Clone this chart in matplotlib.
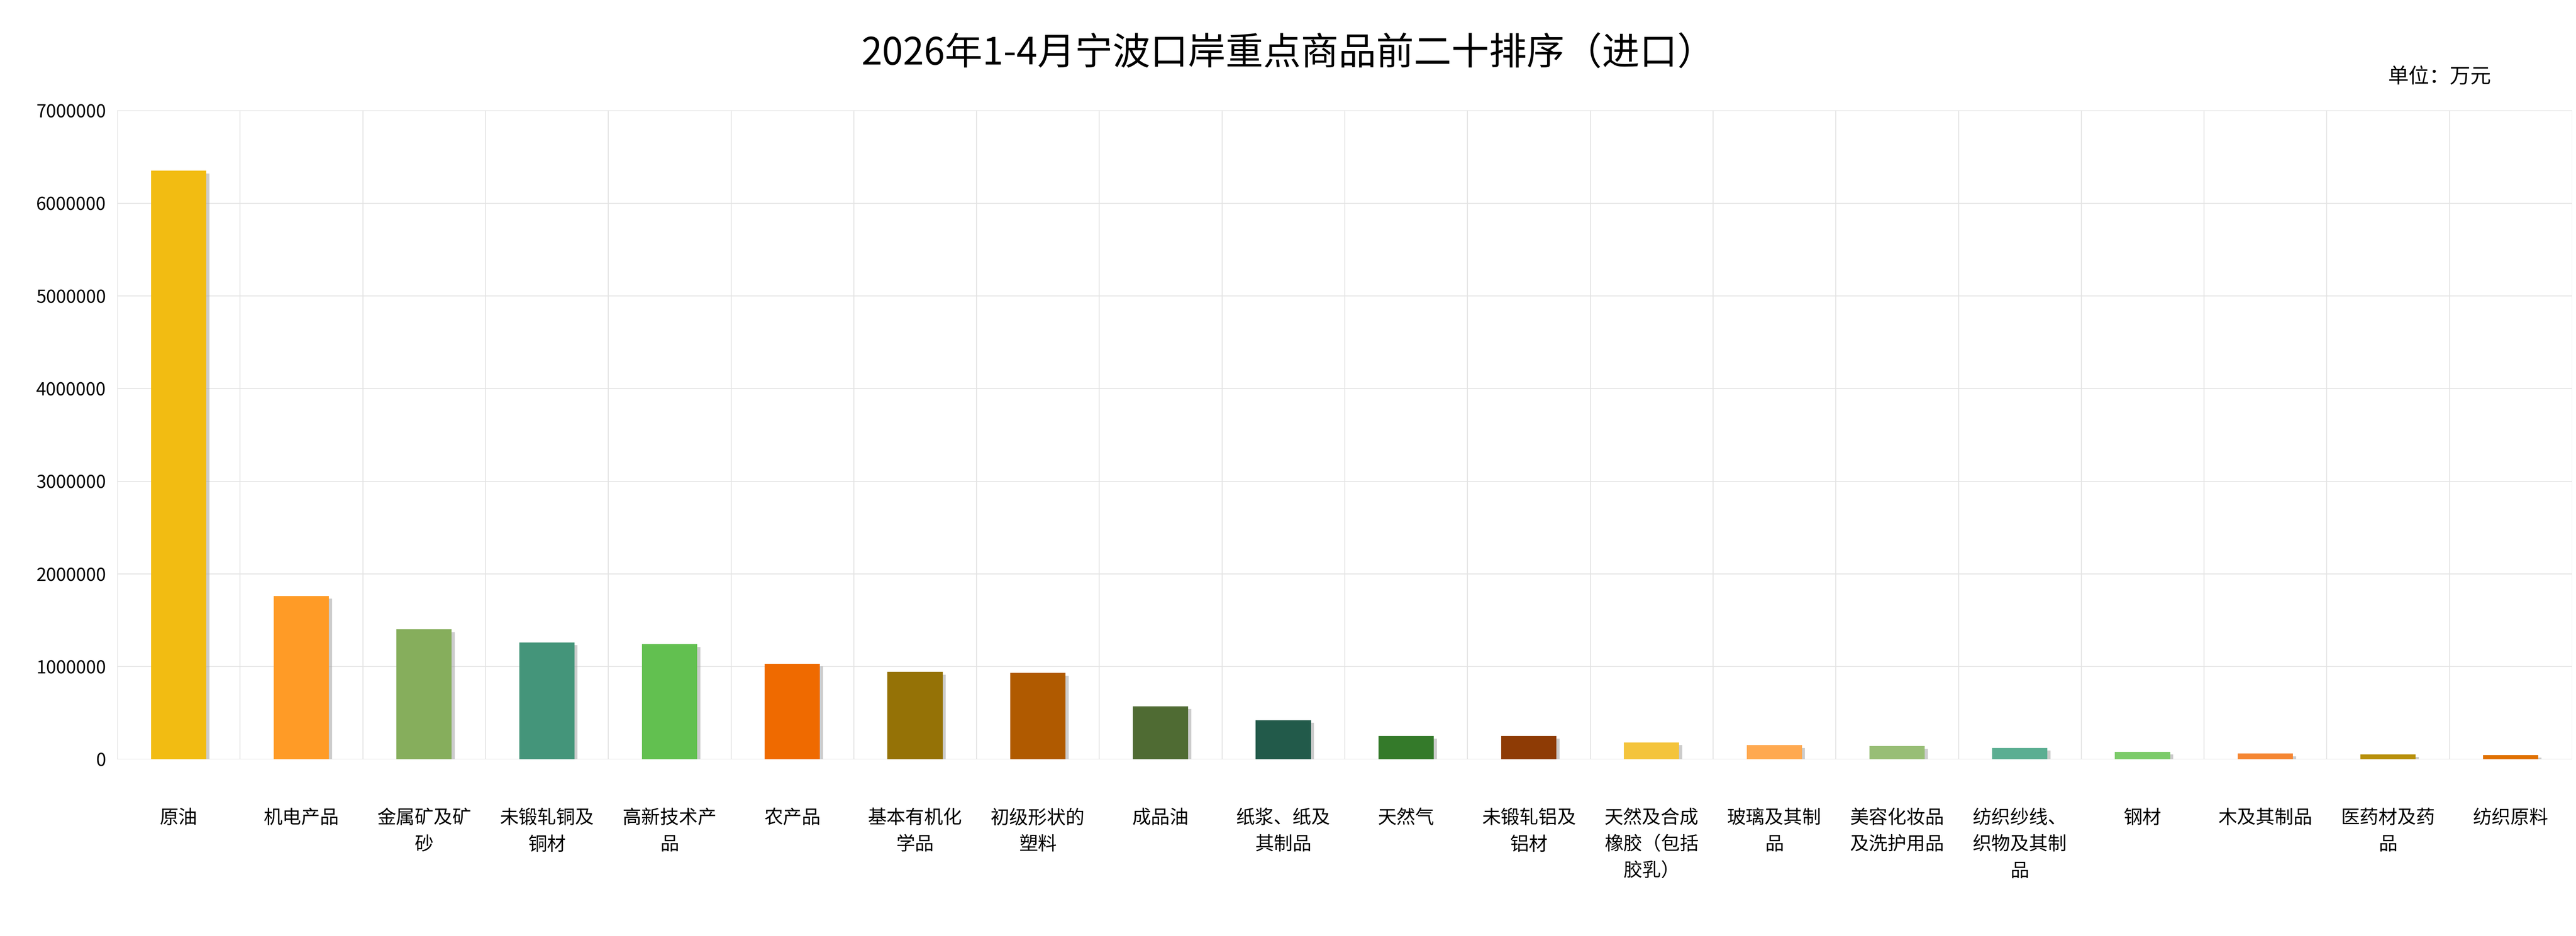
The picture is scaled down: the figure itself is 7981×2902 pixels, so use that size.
import matplotlib
matplotlib.use("Agg")
import matplotlib.pyplot as plt
import matplotlib.patheffects as pe
import numpy as np

plt.rcParams['font.family'] = ['Noto Sans CJK SC', 'DejaVu Sans']

categories = ["原油", "机电产品", "金属矿及矿\n砂", "未锻轧铜及\n铜材", "高新技术产\n品", "农产品",
              "基本有机化\n学品", "初级形状的\n塑料", "成品油", "纸浆、纸及\n其制品", "天然气",
              "未锻轧铝及\n铝材", "天然及合成\n橡胶（包括\n胶乳）", "玻璃及其制\n品", "美容化妆品\n及洗护用品",
              "纺织纱线、\n织物及其制\n品", "钢材", "木及其制品", "医药材及药\n品", "纺织原料"]
values = [6350000, 1760000, 1400000, 1260000, 1240000, 1030000, 940000, 930000, 570000, 420000,
          250000, 250000, 180000, 150000, 140000, 120000, 80000, 60000, 50000, 45000]
colors = ["#F2BC12", "#FF9B26", "#86AE5C", "#44957A", "#62C050", "#EF6A00", "#957206", "#B05A00",
          "#4F6B33", "#225A4A", "#347A2A", "#8E3B05", "#F4C43C", "#FFA950", "#98BE76", "#5BAE92",
          "#7CCB6A", "#F58633", "#B8900C", "#E07000"]

fig = plt.figure(figsize=(79.81, 29.02), dpi=100)
ax = fig.add_axes([0.0455, 0.189, 0.953, 0.693])
x = np.arange(len(categories))
bars = ax.bar(x, values, width=0.45, color=colors, zorder=3,
              path_effects=[pe.SimplePatchShadow(offset=(7, -6), shadow_rgbFace='#aaaaaa', alpha=0.6), pe.Normal()])
ax.set_xlim(-0.5, len(categories) - 0.5)
ax.set_ylim(0, 7000000)
ax.set_yticks(np.arange(0, 7000001, 1000000))
ax.set_yticklabels([str(v) for v in range(0, 7000001, 1000000)], fontsize=40)
ax.set_xticks(x)
ax.set_xticklabels(categories, fontsize=42, linespacing=1.45)
ax.tick_params(axis='x', length=0, pad=110)
ax.tick_params(axis='y', length=0, pad=25)
ax.set_xticks(np.arange(-0.5, len(categories), 1), minor=True)
ax.grid(which='minor', axis='x', color='#e3e3e3', linewidth=2, zorder=0)
ax.grid(which='major', axis='y', color='#e3e3e3', linewidth=2, zorder=0)
ax.tick_params(which='minor', length=0)
for s in ax.spines.values():
    s.set_visible(False)
ax.axhline(0, color='#cccccc', linewidth=2, zorder=2)

fig.text(0.5, 0.942, "2026年1-4月宁波口岸重点商品前二十排序（进口）", ha='center', va='center', fontsize=84)
fig.text(0.947, 0.918, "单位：万元", ha='center', va='center', fontsize=46)
fig.savefig("out.png", dpi=100)
